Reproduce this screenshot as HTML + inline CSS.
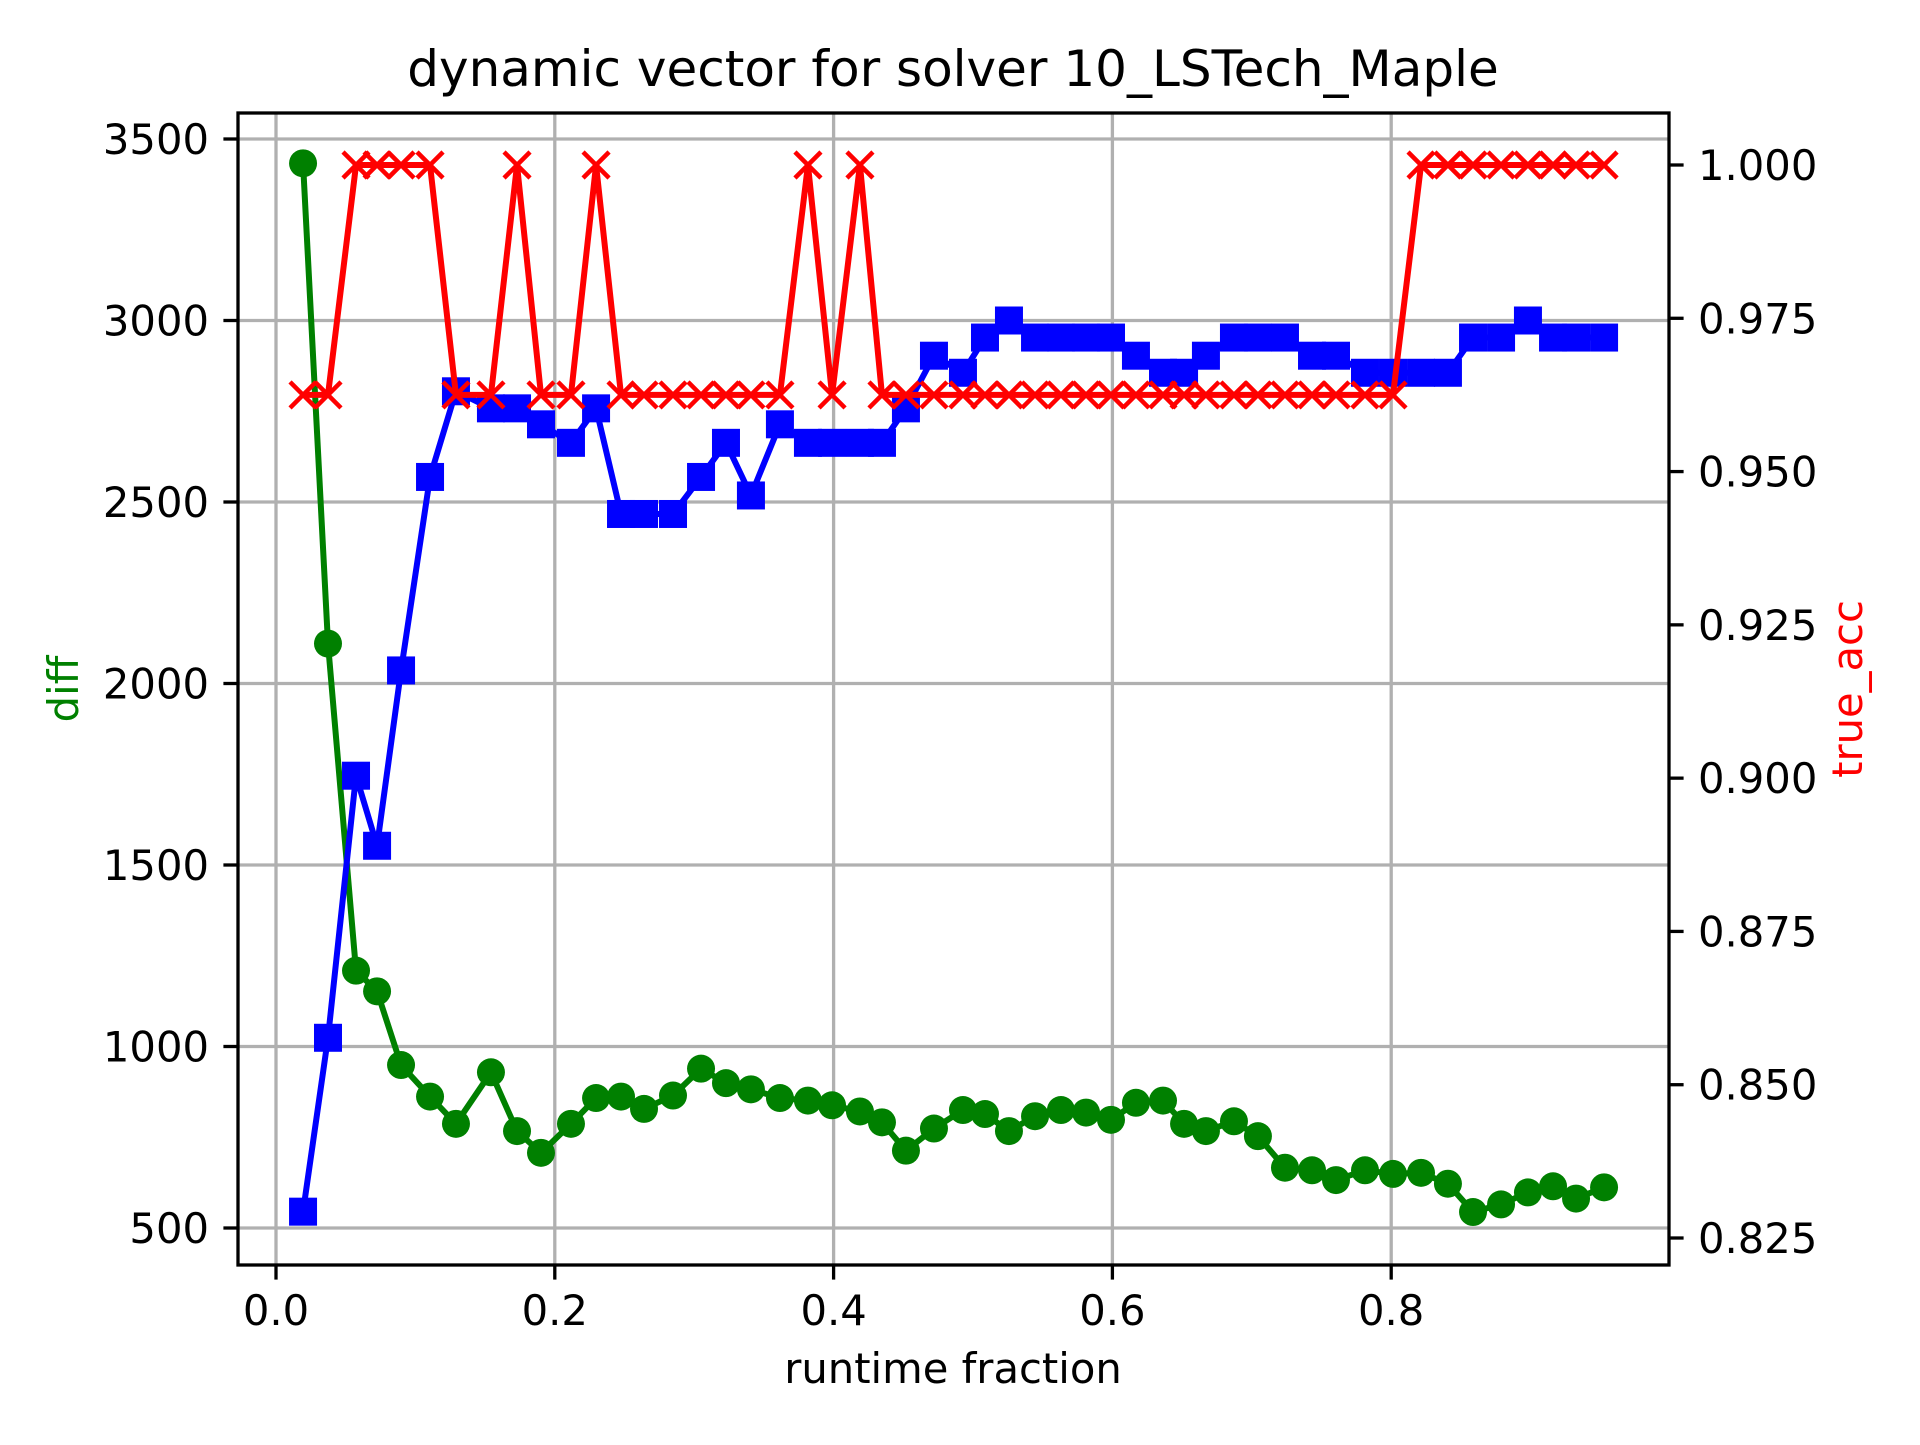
<!DOCTYPE html>
<html><head><meta charset="utf-8"><style>
html,body{margin:0;padding:0;background:#fff}
svg text{font-family:"DejaVu Sans","Liberation Sans",sans-serif}
</style></head><body>
<svg id="chart" width="1920" height="1440" viewBox="0 0 1920 1440" xmlns="http://www.w3.org/2000/svg">
<rect x="0" y="0" width="1920" height="1440" fill="#fff"/>
<g id="grid"></g>
<g id="series"></g>
<g id="axes"></g>
<text x="953" y="86" font-size="50" text-anchor="middle">dynamic vector for solver 10_LSTech_Maple</text>
<text x="953" y="1383" font-size="41.7" text-anchor="middle">runtime fraction</text>
<text x="0" y="0" font-size="41.7" fill="green" text-anchor="middle" transform="translate(78,689) rotate(-90)">diff</text>
<text x="0" y="0" font-size="41.7" fill="red" text-anchor="middle" transform="translate(1862,689) rotate(-90)">true_acc</text>
</svg>
<script>
const xValues=[0.0194,0.0373,0.0574,0.0725,0.0897,0.1105,0.1291,0.1542,0.1729,0.1901,0.2116,0.2296,0.2475,0.2640,0.2848,0.3049,0.3228,0.3407,0.3615,0.3816,0.3989,0.4189,0.4347,0.4519,0.4720,0.4928,0.5086,0.5258,0.5445,0.5631,0.5811,0.5990,0.6169,0.6363,0.6514,0.6671,0.6872,0.7044,0.7238,0.7432,0.7604,0.7812,0.8013,0.8214,0.8407,0.8587,0.8788,0.8981,0.9161,0.9326,0.9527];
const diffValues=[3433,2110,1209,1152,949,862,787,929,767,707,787,858,862,828,865,939,899,882,858,851,838,821,791,713,774,825,814,767,808,825,818,798,845,851,787,767,794,753,666,659,632,659,649,652,622,544,565,598,615,581,612];
const blueValues=[545,1024,1746,1553,2036,2569,2805,2758,2758,2714,2663,2758,2467,2467,2467,2569,2663,2518,2714,2663,2663,2663,2663,2758,2903,2856,2953,3000,2953,2953,2953,2953,2903,2856,2856,2903,2953,2953,2953,2903,2903,2856,2856,2856,2856,2953,2953,3000,2953,2953,2953];
const accValues=[0.9625,0.9625,1,1,1,1,0.9625,0.9625,1,0.9625,0.9625,1,0.9625,0.9625,0.9625,0.9625,0.9625,0.9625,0.9625,1,0.9625,1,0.9625,0.9625,0.9625,0.9625,0.9625,0.9625,0.9625,0.9625,0.9625,0.9625,0.9625,0.9625,0.9625,0.9625,0.9625,0.9625,0.9625,0.9625,0.9625,0.9625,0.9625,1,1,1,1,1,1,1,1];
const xTicks=[0,0.2,0.4,0.6,0.8];
const xTickLabels=["0.0","0.2","0.4","0.6","0.8"];
const yLeftTicks=[500,1000,1500,2000,2500,3000,3500];
const yRightTicks=[0.825,0.85,0.875,0.9,0.925,0.95,0.975,1.0];
const yRightTickLabels=["0.825","0.850","0.875","0.900","0.925","0.950","0.975","1.000"];

const L=238,R=1669,T=113,B=1265;
const xs=v=>276+v*1394;
const yl=v=>1228-(v-500)*(1089/3000);
const yr=v=>1238-(v-0.825)*(1073/0.175);
const NS="http://www.w3.org/2000/svg";
function mk(tag,attrs,parent){const e=document.createElementNS(NS,tag);for(const k in attrs)e.setAttribute(k,attrs[k]);parent.appendChild(e);return e;}
const grid=document.getElementById('grid'),ser=document.getElementById('series'),ax=document.getElementById('axes');
const FS=41.7;
xTicks.forEach((t,i)=>{
  const g=mk('line',{x1:xs(t),x2:xs(t),y1:T,y2:B,stroke:'#b0b0b0','stroke-width':3.3},grid);
  
  
  const tk=mk('line',{x1:xs(t),x2:xs(t),y1:B,y2:B+14.6,stroke:'#000','stroke-width':3.3},ax);
  
  
  const tx=mk('text',{x:xs(t),y:B+60,'font-size':FS,'text-anchor':'middle'},ax);
  tx.textContent=xTickLabels[i];
  
  
});
yLeftTicks.forEach(t=>{
  const g=mk('line',{x1:L,x2:R,y1:yl(t),y2:yl(t),stroke:'#b0b0b0','stroke-width':3.3},grid);
  
  
  const tk=mk('line',{x1:L-14.6,x2:L,y1:yl(t),y2:yl(t),stroke:'#000','stroke-width':3.3},ax);
  
  
  const tx=mk('text',{x:L-29,y:yl(t)+15,'font-size':FS,'text-anchor':'end'},ax);
  tx.textContent=String(t);
  
  
});
yRightTicks.forEach((t,i)=>{
  const tk=mk('line',{x1:R,x2:R+14.6,y1:yr(t),y2:yr(t),stroke:'#000','stroke-width':3.3},ax);
  
  
  const tx=mk('text',{x:R+29,y:yr(t)+15,'font-size':FS,'text-anchor':'start'},ax);
  tx.textContent=yRightTickLabels[i];
  
  
});
const frame=mk('rect',{x:L,y:T,width:R-L,height:B-T,fill:'none',stroke:'#000','stroke-width':3.3},ax);



const gp=mk('polyline',{points:xValues.map((x,i)=>xs(x)+','+yl(diffValues[i])).join(' '),fill:'none',stroke:'green','stroke-width':6},ser);


xValues.forEach((x,i)=>{
  const c=mk('circle',{cx:xs(x),cy:yl(diffValues[i]),r:14,fill:'green'},ser);
  
  
});
const bp=mk('polyline',{points:xValues.map((x,i)=>xs(x)+','+yl(blueValues[i])).join(' '),fill:'none',stroke:'blue','stroke-width':6},ser);


xValues.forEach((x,i)=>{
  const s=mk('rect',{x:xs(x)-14,y:yl(blueValues[i])-14,width:28,height:28,fill:'blue'},ser);
  
  
});
const rp=mk('polyline',{points:xValues.map((x,i)=>xs(x)+','+yr(accValues[i])).join(' '),fill:'none',stroke:'red','stroke-width':6},ser);


xValues.forEach((x,i)=>{
  const cx=xs(x),cy=yr(accValues[i]),d=13;
  const p=mk('path',{d:`M${cx-d},${cy-d}L${cx+d},${cy+d}M${cx-d},${cy+d}L${cx+d},${cy-d}`,stroke:'red','stroke-width':4.5,fill:'none'},ser);
  
  
});
</script>
</body></html>
